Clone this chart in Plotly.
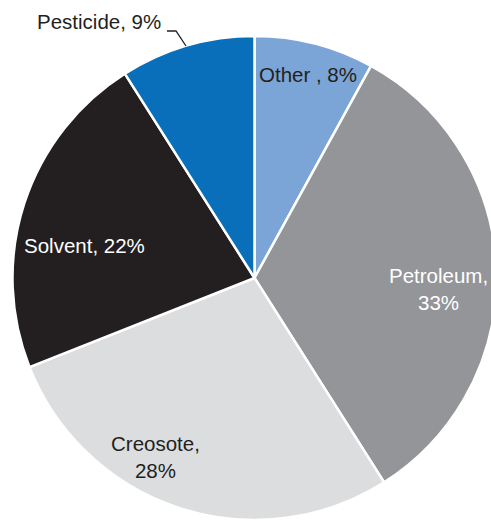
import plotly.graph_objects as go

# ---- data ----
categories = ["Other ", "Petroleum", "Creosote", "Solvent", "Pesticide"]
values = [8, 33, 28, 22, 9]
label_texts = ["Other , 8%", "Petroleum,<br>33%", "Creosote,<br>28%", "Solvent, 22%", "Pesticide, 9%"]

# ---- styles ----
colors = ["#7ba4d7", "#939598", "#dcdddf", "#231f20", "#0a6fba"]
text_colors = ["#231f20", "#ffffff", "#231f20", "#ffffff", "#231f20"]
label_px = [(308, 75), (438, 289), (155, 457), (84, 245), (99, 22)]

W, H = 509, 520
FONT = "Liberation Sans, Arial, sans-serif"

def px(x, y):
    return x / W, 1 - y / H

fig = go.Figure()
fig.add_trace(go.Pie(
    labels=categories,
    values=values,
    sort=False,
    direction="clockwise",
    rotation=0,
    textinfo="none",
    hoverinfo="label+percent",
    marker=dict(colors=colors, line=dict(color="#ffffff", width=2.5)),
    domain=dict(x=[0, 1], y=[0, 1 - 36 / H]),
    showlegend=False,
))

for txt, col, (x, y) in zip(label_texts, text_colors, label_px):
    ax, ay = px(x, y)
    fig.add_annotation(
        x=ax, y=ay, xref="paper", yref="paper",
        text=txt, showarrow=False,
        xanchor="center", yanchor="middle",
        font=dict(family=FONT, size=20.5, color=col),
    )

# leader line for the Pesticide label
pts = [px(167, 31), px(176, 31), px(186, 46)]
path = "M {} {} L {} {} L {} {}".format(pts[0][0], pts[0][1], pts[1][0], pts[1][1], pts[2][0], pts[2][1])
fig.add_shape(type="path", path=path, xref="paper", yref="paper",
              line=dict(color="#231f20", width=1.3))

fig.update_layout(
    width=W, height=H,
    margin=dict(l=0, r=0, t=0, b=0),
    paper_bgcolor="#ffffff",
    plot_bgcolor="#ffffff",
    font=dict(family=FONT),
)

fig.write_html("out.html", post_script="document.body.style.overflow='hidden';document.documentElement.style.overflow='hidden';")
